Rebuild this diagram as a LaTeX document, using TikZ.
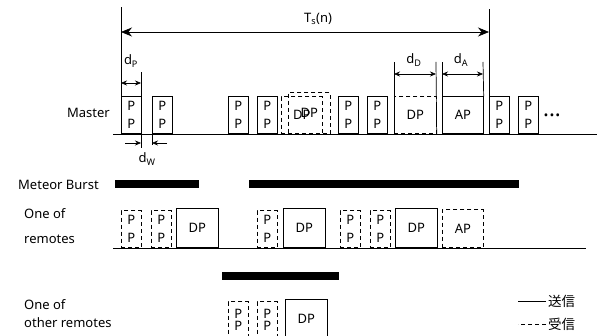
\documentclass[tikz,border=0pt]{standalone}
\usepackage{fontspec}
\setmainfont{Noto Sans}
\newfontfamily\cjk{Noto Sans CJK JP}
\usetikzlibrary{arrows.meta, positioning}

\begin{document}
\begin{tikzpicture}[x=1pt, y=-1pt,
		font=\fontsize{13}{18}\selectfont,
		pkt/.style={draw, line width=0.7pt, minimum width=20pt, minimum height=37pt, inner sep=0pt, anchor=south west, align=center},
		rpkt/.style={pkt, dash pattern=on 4pt off 3pt},
		dpkt/.style={pkt, minimum width=42pt, minimum height=39pt},
		burst/.style={fill=black, minimum height=8pt, inner sep=0pt, anchor=west},
		side/.style={align=left, anchor=west, inner sep=0pt},
		dim/.style={{Stealth[length=6pt,width=5pt]}-{Stealth[length=6pt,width=5pt]}, line width=0.6pt},
		span/.style={{Stealth[length=11pt,width=9pt]}-{Stealth[length=11pt,width=9pt]}, line width=0.7pt},
		tick/.style={line width=0.7pt},
		sub/.style={inner sep=0pt}
	]
	\clip (0,0) rectangle (616,336);

	% Master
	\node[anchor=east, inner sep=0pt] (master) at (110,113) {Master};
	\draw[tick] (113,134) -- (597,134);
	\foreach \x [count=\i] in {121,152,228,257,338,367,489,518} {
			\node[pkt] (m\i) at (\x,134) {P\\P};
		}
	\node[rpkt, minimum width=41pt] (mdpa) at (281,134) {DP};
	\node[rpkt, minimum width=42pt, minimum height=41pt] (mdpb) at (288,134) {DP};
	\node[rpkt, minimum width=42pt] (mdp) at (394,134) {DP};
	\node[pkt, minimum width=41pt] (map) at (442,134) {AP};
	\node[anchor=base, inner sep=0pt, font=\fontsize{22}{22}\selectfont\bfseries] (mdots) at (552,117) {...};

	% Cycle T_s(n)
	\coordinate (tl) at (121,7);
	\coordinate (tr) at (489,9);
	\draw[tick] (m1.south west) -- (tl);
	\draw[tick] (m7.south west) -- (tr);
	\draw[span] (m1.west |- 0,32) -- (m7.west |- 0,32);
	\node[sub] (ts) at (318,19) {T\textsubscript{s}(n)};

	% d_P and d_W
	\coordinate (dpt) at (141,72);
	\coordinate (dpb) at (141,148);
	\coordinate (dwb) at (152,145);
	\draw[tick] (dpb) -- (dpt);
	\draw[tick] (m2.south west) -- (dwb);
	\draw[dim] (m1.west |- 0,83) -- (dpt |- 0,83);
	\node[sub] (dplbl) at (131,61) {d\textsubscript{P}};
	\draw[-{Stealth[length=6pt,width=5pt]}, line width=0.6pt] (125,143) -- (dpt |- 0,143);
	\draw[-{Stealth[length=6pt,width=5pt]}, line width=0.6pt] (167,143) -- (dwb |- 0,143);
	\node[sub] (dwlbl) at (147,159) {d\textsubscript{W}};

	% d_D and d_A
	\coordinate (ddl) at (394,62);
	\coordinate (ddr) at (436,62);
	\coordinate (dal) at (442,62);
	\coordinate (dar) at (483,62);
	\draw[tick] (mdp.south west) -- (ddl);
	\draw[tick] (mdp.south east) -- (ddr);
	\draw[tick] (map.north west) -- (dal);
	\draw[tick] (map.north east) -- (dar);
	\draw[dim] (ddl |- 0,74) -- (ddr |- 0,74);
	\draw[dim] (dal |- 0,74) -- (dar |- 0,74);
	\node[sub] (ddlbl) at (414,60) {d\textsubscript{D}};
	\node[sub] (dalbl) at (461,60) {d\textsubscript{A}};

	% Meteor Burst
	\node[side] (meteor) at (18,185) {Meteor Burst};
	\node[burst, minimum width=84pt] (b1) at (115,184) {};
	\node[burst, minimum width=270pt] (b2) at (249,184) {};
	\node[burst, minimum width=117pt] (b3) at (222,276) {};

	% One of remotes
	\node[side] (rem) at (24,226) {One of\\[7pt]remotes};
	\draw[tick] (113,248) -- (586,248);
	\foreach \x [count=\i] in {121,151,257,340,370} {
			\node[rpkt] (r\i) at (\x,248) {P\\P};
		}
	\foreach \x [count=\i] in {176,283,395} {
			\node[dpkt] (rd\i) at (\x,248) {DP};
		}
	\node[rpkt, minimum width=41pt, minimum height=38pt] (rap) at (442,248) {AP};

	% One of other remotes
	\node[side] (orem) at (24,314) {One of\\other remotes};
	\foreach \x [count=\i] in {228,257} {
			\node[rpkt] (o\i) at (\x,339) {P\\[-6pt]P};
		}
	\node[dpkt] (od1) at (285,339) {DP};

	% Legend
	\node[anchor=west, inner sep=2pt, font=\cjk\fontsize{13.5}{14}\selectfont] (send) at (546,301) {送信};
	\node[anchor=west, inner sep=2pt, font=\cjk\fontsize{13.5}{14}\selectfont] (recv) at (546,324) {受信};
	\draw[tick] (send.west) -- ++(-28,0);
	\draw[tick, dash pattern=on 4pt off 3pt] (recv.west) -- ++(-28,0);
\end{tikzpicture}
\end{document}
